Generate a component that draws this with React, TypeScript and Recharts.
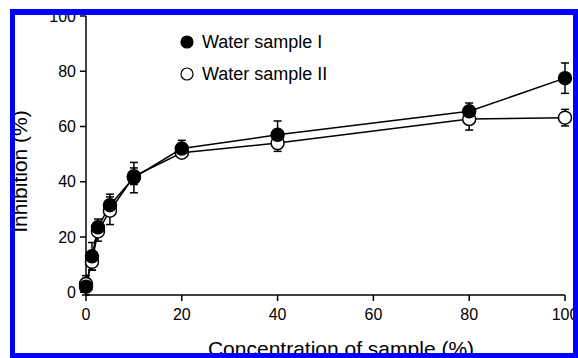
import { ComposedChart, Line, XAxis, YAxis, ErrorBar, Legend, Label } from 'recharts'

const concentrations = [0, 1.25, 2.5, 5, 10, 20, 40, 80, 100]
const sampleI = [2, 13, 23.5, 31.5, 41.5, 52, 57, 65.5, 77.5]
const sampleIErr = [3, 5, 3, 4, 5.5, 3, 5, 3, 5.5]
const sampleII = [3, 11, 22, 29.5, 42, 50.5, 54, 62.7, 63.2]
const sampleIIErr = [3, 3, 3.5, 5, 3, 1.5, 3, 4, 3]
const xTicks = [0, 20, 40, 60, 80, 100]
const yTicks = [0, 20, 40, 60, 80, 100]
const seriesNames = ['Water sample I', 'Water sample II']

const FONT = '"Liberation Sans", Arial, Helvetica, sans-serif'

const dataI = concentrations.map((x, i) => ({ x, y: sampleI[i], err: sampleIErr[i] }))
const dataII = concentrations.map((x, i) => ({ x, y: sampleII[i], err: sampleIIErr[i] }))

const axisStroke = { stroke: '#000', strokeWidth: 1.5 }
const tickStyle = { fill: '#000', fontSize: 16, fontFamily: FONT }

function LegendBox() {
  return (
    <div style={{ fontFamily: FONT, fontSize: 18, color: '#000' }}>
      {seriesNames.map((name, i) => (
        <div key={name} style={{ display: 'flex', alignItems: 'center', height: 32 }}>
          <svg width={14} height={14} style={{ marginRight: 8 }}>
            <circle cx={7} cy={7} r={6} fill={i === 0 ? '#000' : '#fff'} stroke="#000" strokeWidth={1.2} />
          </svg>
          <span>{name}</span>
        </div>
      ))}
    </div>
  )
}

export default function App() {
  return (
    <div style={{ position: 'absolute', left: 0, top: 0, width: 578, height: 358, background: '#fff' }}>
      <ComposedChart width={578} height={358} margin={{ top: 16, right: 13, bottom: 0, left: 0 }}>
        <XAxis
          type="number"
          dataKey="x"
          domain={[0, 100]}
          ticks={xTicks}
          height={63}
          tickSize={6}
          tickMargin={8}
          axisLine={axisStroke}
          tickLine={axisStroke}
          tick={tickStyle}
        >
          <Label
            content={() => (
              <text x={341} y={356} textAnchor="middle" fontSize={21} fontFamily={FONT} fill="#000">
                Concentration of sample (%)
              </text>
            )}
          />
        </XAxis>
        <YAxis
          type="number"
          domain={[0, 100]}
          ticks={yTicks}
          width={86}
          tickSize={6}
          tickMargin={4}
          axisLine={axisStroke}
          tickLine={axisStroke}
          tick={tickStyle}
        >
          <Label
            content={() => (
              <text
                x={27}
                y={171.5}
                transform="rotate(-90, 27, 171.5)"
                textAnchor="middle"
                fontSize={21}
                fontFamily={FONT}
                fill="#000"
              >
                Inhibition (%)
              </text>
            )}
          />
        </YAxis>
        <Legend
          layout="vertical"
          align="center"
          verticalAlign="middle"
          content={() => <LegendBox />}
          wrapperStyle={{ left: 180, top: 26, width: 'auto', bottom: 'auto' }}
        />
        <Line
          data={dataII}
          dataKey="y"
          name={seriesNames[1]}
          stroke="#000"
          strokeWidth={1.5}
          dot={{ r: 6.5, fill: '#fff', stroke: '#000', strokeWidth: 1.5 }}
          isAnimationActive={false}
        >
          <ErrorBar dataKey="err" width={4} stroke="#000" strokeWidth={1.5} direction="y" />
        </Line>
        <Line
          data={dataI}
          dataKey="y"
          name={seriesNames[0]}
          stroke="#000"
          strokeWidth={1.5}
          dot={{ r: 6.5, fill: '#000', stroke: '#000', strokeWidth: 1.5 }}
          isAnimationActive={false}
        >
          <ErrorBar dataKey="err" width={4} stroke="#000" strokeWidth={1.5} direction="y" />
        </Line>
      </ComposedChart>
      <div
        style={{
          position: 'absolute',
          left: 0,
          top: 0,
          width: 578,
          height: 358,
          boxSizing: 'border-box',
          borderLeft: '10px solid #fff',
          borderTop: '9px solid #fff',
          pointerEvents: 'none',
        }}
      >
        <div
          style={{
            width: '100%',
            height: '100%',
            boxSizing: 'border-box',
            borderStyle: 'solid',
            borderColor: '#0000ff',
            borderWidth: '6px 5px 5px 5px',
          }}
        />
      </div>
    </div>
  )
}
